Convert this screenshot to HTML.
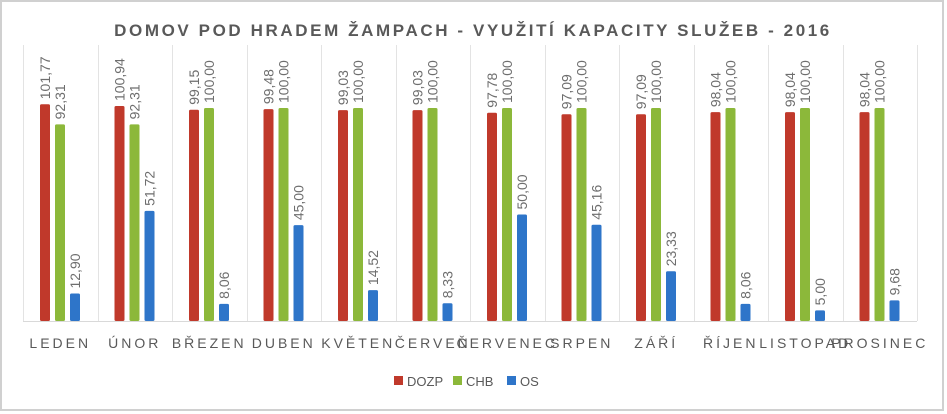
<!DOCTYPE html>
<html><head><meta charset="utf-8"><style>
body{margin:0;background:#fff;}
svg{display:block;font-family:"Liberation Sans",sans-serif;}
</style></head><body>
<svg width="947" height="414" viewBox="0 0 947 414">
<rect x="1" y="1" width="942" height="409" fill="#fff" stroke="#d0d0d0" stroke-width="2"/>
<text x="473" y="36" text-anchor="middle" font-size="17" font-weight="bold" fill="#595959" letter-spacing="2.6">DOMOV POD HRADEM ŽAMPACH - VYUŽITÍ KAPACITY SLUŽEB - 2016</text>
<g id="grid"></g><g id="bars"></g><g id="labels"></g><g id="cats"></g>
<line x1="23" y1="321.5" x2="917" y2="321.5" stroke="#d9d9d9"/>
<g>
<g><rect x="394" y="376" width="9" height="9" fill="#c0392b"/><text x="407" y="386" font-size="13" fill="#595959">DOZP</text></g>
<g><rect x="453" y="376" width="9" height="9" fill="#8cb83a"/><text x="466" y="386" font-size="13" fill="#595959">CHB</text></g>
<g><rect x="507" y="376" width="9" height="9" fill="#2e75c9"/><text x="520" y="386" font-size="13" fill="#595959">OS</text></g>
</g>
</svg>
<script>
const categories=["LEDEN","ÚNOR","BŘEZEN","DUBEN","KVĚTEN","ČERVEN","ČERVENEC","SRPEN","ZÁŘÍ","ŘÍJEN","LISTOPAD","PROSINEC"];
const dozp=[101.77,100.94,99.15,99.48,99.03,99.03,97.78,97.09,97.09,98.04,98.04,98.04];
const chb=[92.31,92.31,100,100,100,100,100,100,100,100,100,100];
const os=[12.90,51.72,8.06,45.00,14.52,8.33,50.00,45.16,23.33,8.06,5.00,9.68];
const seriesNames=["dozp","chb","os"];
const colors=["#c0392b","#8cb83a","#2e75c9"];
const NS="http://www.w3.org/2000/svg";
const x0=23,x1=917,base=321,scale=2.13;
const gw=(x1-x0)/categories.length;
function xGroup(i){return x0+i*gw;}
function y(v){return base-v*scale;}
const grid=document.getElementById('grid'),bars=document.getElementById('bars'),labels=document.getElementById('labels'),cats=document.getElementById('cats');
for(let i=0;i<=categories.length;i++){
 const l=document.createElementNS(NS,'line');
 
 
 const xx=Math.round(xGroup(i))+0.5;
 l.setAttribute('x1',xx);l.setAttribute('x2',xx);l.setAttribute('y1',45);l.setAttribute('y2',base);
 l.setAttribute('stroke','#e3e3e3');grid.appendChild(l);
}
[dozp,chb,os].forEach((arr,s)=>{
 arr.forEach((v,i)=>{
  const bx=xGroup(i)+17+s*15;
  const r=document.createElementNS(NS,'rect');
  
  
  r.setAttribute('x',bx);r.setAttribute('width',10);
  r.setAttribute('y',y(v));r.setAttribute('height',base-y(v));
  r.setAttribute('rx',1.5);
  r.setAttribute('fill',colors[s]);bars.appendChild(r);
  const t=document.createElementNS(NS,'text');
  
  
  const tx=bx+10,ty=y(v)-5;
  t.setAttribute('transform','translate('+tx+','+ty+') rotate(-90)');
  t.setAttribute('font-size','14');t.setAttribute('fill','#6e6e6e');
  t.textContent=v.toFixed(2).replace('.',',');labels.appendChild(t);
 });
});
categories.forEach((c,i)=>{
 const t=document.createElementNS(NS,'text');
 
 
 t.setAttribute('x',xGroup(i)+gw/2);t.setAttribute('y',348);
 t.setAttribute('text-anchor','middle');t.setAttribute('font-size','14');
 t.setAttribute('letter-spacing','3');t.setAttribute('fill','#595959');
 t.textContent=c;cats.appendChild(t);
});
</script>
</body></html>
